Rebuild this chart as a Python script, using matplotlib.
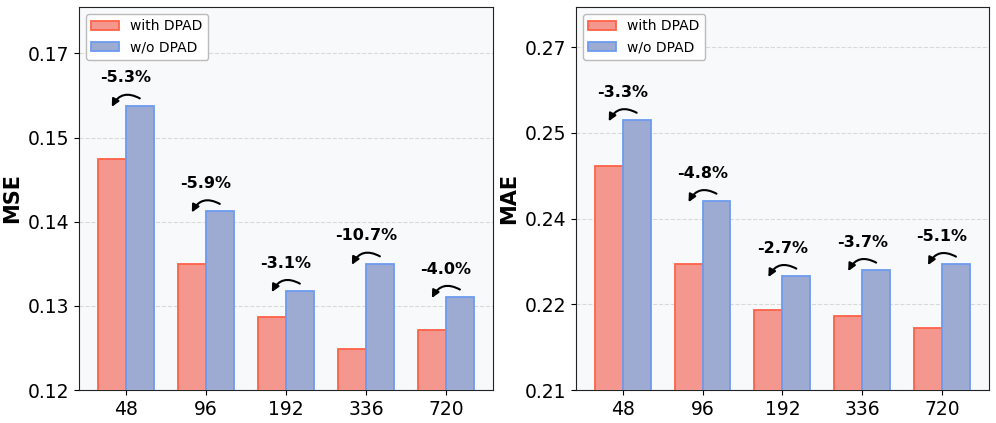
import numpy as np
import matplotlib
matplotlib.use("Agg")
import matplotlib.pyplot as plt
from matplotlib.transforms import offset_copy
from matplotlib.ticker import FormatStrFormatter

horizons = ["48", "96", "192", "336", "720"]

mse_with = [0.1513, 0.1371, 0.1299, 0.1255, 0.1281]
mse_without = [0.1585, 0.1442, 0.1334, 0.1371, 0.1326]
mse_gain = ["-5.3%", "-5.9%", "-3.1%", "-10.7%", "-4.0%"]

mae_with = [0.2473, 0.2310, 0.2233, 0.2224, 0.2204]
mae_without = [0.2550, 0.2415, 0.2290, 0.2300, 0.2310]
mae_gain = ["-3.3%", "-4.8%", "-2.7%", "-3.7%", "-5.1%"]

RED_FACE, RED_EDGE = "#F4978E", "#FF6347"
BLUE_FACE, BLUE_EDGE = "#9DABD3", "#6D9BF0"


def draw_panel(ax, fig, with_vals, without_vals, gains, ylabel, ymin, ymax, tick_top):
    x = np.arange(len(horizons))
    w = 0.35
    ax.set_facecolor("#F8F9FA")
    ax.bar(x - w / 2, with_vals, w, color=RED_FACE, edgecolor=RED_EDGE,
           linewidth=1.3, label="with DPAD", zorder=3)
    ax.bar(x + w / 2, without_vals, w, color=BLUE_FACE, edgecolor=BLUE_EDGE,
           linewidth=1.3, label="w/o DPAD", zorder=3)
    ax.set_ylim(ymin, ymax)
    ax.set_yticks(np.linspace(ymin, tick_top, 5))
    ax.yaxis.set_major_formatter(FormatStrFormatter("%.2f"))
    ax.set_xticks(x)
    ax.set_xticklabels(horizons)
    ax.tick_params(axis="both", labelsize=13.5)
    ax.set_ylabel(ylabel, fontsize=15, fontweight="bold")
    ax.grid(axis="y", linestyle="--", color="#D9D9D9", linewidth=0.8, zorder=0)
    ax.set_axisbelow(True)
    for s in ax.spines.values():
        s.set_color("#222222")

    up = offset_copy(ax.transData, fig=fig, x=0, y=7.5, units="dots")
    down = offset_copy(ax.transData, fig=fig, x=0, y=-1, units="dots")
    for i, (v, g) in enumerate(zip(without_vals, gains)):
        ax.annotate(g, xy=(i, v), xytext=(0, 28), textcoords="offset pixels",
                    ha="center", va="center", fontsize=11.5, fontweight="bold")
        ax.annotate("", xy=(i - w / 2, v), xycoords=down,
                    xytext=(i + w / 2, v), textcoords=up,
                    arrowprops=dict(arrowstyle="-|>", color="black", lw=1.5,
                                    mutation_scale=11,
                                    connectionstyle="arc3,rad=0.5",
                                    shrinkA=0, shrinkB=0))
    ax.legend(loc="upper left", fontsize=10, fancybox=True, framealpha=1,
              edgecolor="#BBBBBB")


fig = plt.figure(figsize=(9.96, 4.23), dpi=100)
ax1 = fig.add_axes([0.0793, 0.078, 0.4154, 0.9055])
ax2 = fig.add_axes([0.5783, 0.078, 0.4144, 0.9055])

draw_panel(ax1, fig, mse_with, mse_without, mse_gain, "MSE", 0.12, 0.1719, 0.1656)
draw_panel(ax2, fig, mae_with, mae_without, mae_gain, "MAE", 0.21, 0.2739, 0.2672)

fig.savefig("out.png", dpi=100)
